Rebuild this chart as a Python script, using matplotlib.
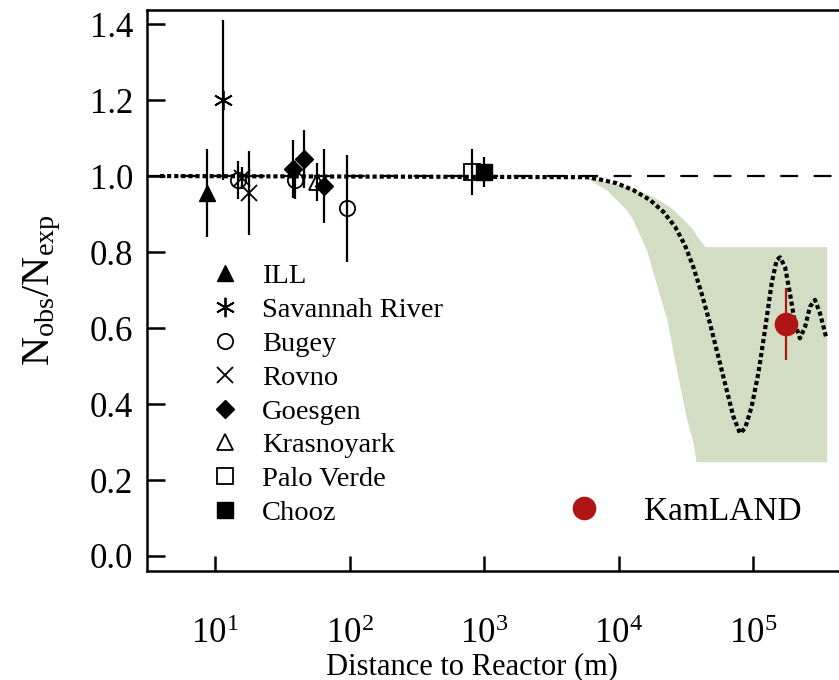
import numpy as np
import matplotlib
matplotlib.use("Agg")
import matplotlib.pyplot as plt
from matplotlib.lines import Line2D
from matplotlib.ticker import FixedLocator, NullLocator

plt.rcParams["font.family"] = ["Liberation Serif", "DejaVu Serif"]
plt.rcParams["mathtext.fontset"] = "custom"
plt.rcParams["mathtext.rm"] = "Liberation Serif"
plt.rcParams["mathtext.it"] = "Liberation Serif:italic"
plt.rcParams["mathtext.bf"] = "Liberation Serif:bold"

# ---- reactor experiments: distance (m), observed/expected ratio, 1-sigma error ----
ill_dist, ill_ratio, ill_err = [8.76], [0.955], [0.115]
srp_dist, srp_ratio, srp_err = [11.4], [1.20], [0.21]
bugey_dist = [14.8, 39.0, 95.0]
bugey_ratio = [0.99, 0.99, 0.915]
bugey_err = [0.05, 0.05, 0.14]
rovno_dist = [16.0, 18.0]
rovno_ratio = [0.995, 0.955]
rovno_err = [0.03, 0.11]
goesgen_dist = [37.9, 45.9, 64.7]
goesgen_ratio = [1.018, 1.045, 0.974]
goesgen_err = [0.077, 0.077, 0.097]
kras_dist, kras_ratio, kras_err = [57.0], [0.985], [0.05]
palo_dist, palo_ratio, palo_err = [820.0], [1.01], [0.06]
chooz_dist, chooz_ratio, chooz_err = [1000.0], [1.01], [0.04]
kam_dist, kam_ratio, kam_err = [1.75e5], [0.611], [0.094]

# ---- best-fit oscillation curve (distance in m, ratio) ----
curve_dist = [3.9, 5808, 7278, 9705, 12882, 17140, 21528, 26303, 31189, 35975,
              41495, 47863, 55208, 63680, 71450, 79983, 87297, 97724, 109648,
              122744, 137721, 149968, 158855, 172982, 188365, 205116, 223357,
              243781, 265461, 289068, 314775, 349140]
curve_ratio = [1.0, 0.997, 0.991, 0.981, 0.963, 0.937, 0.906, 0.867, 0.818, 0.761,
               0.691, 0.612, 0.525, 0.437, 0.367, 0.323, 0.336, 0.393, 0.481,
               0.595, 0.718, 0.779, 0.786, 0.761, 0.691, 0.612, 0.573, 0.603,
               0.656, 0.674, 0.639, 0.577]

# ---- allowed LMA band (distance in m, upper and lower ratio) ----
band_dist = [5470, 8166, 11482, 12823, 16180, 20370, 22961, 25527, 30339,
             32285, 35975, 37670, 43954, 353183]
band_upper = [1.0, 0.985, 0.972, 0.966, 0.954, 0.935, 0.924, 0.911, 0.886,
              0.876, 0.858, 0.845, 0.814, 0.814]
band_lower = [1.0, 0.963, 0.911, 0.884, 0.805, 0.682, 0.621, 0.533, 0.402,
              0.358, 0.296, 0.248, 0.248, 0.248]

x_ticks = [1e1, 1e2, 1e3, 1e4, 1e5]
x_tick_labels = [r"$10^{1}$", r"$10^{2}$", r"$10^{3}$", r"$10^{4}$", r"$10^{5}$"]
y_ticks = [0.0, 0.2, 0.4, 0.6, 0.8, 1.0, 1.2, 1.4]

W, H = 839, 680
AX_L, AX_B, AX_W, AX_H = 147, 109, 692, 561
fig = plt.figure(figsize=(W / 100, H / 100), dpi=100)
ax = fig.add_axes([AX_L / W, AX_B / H, AX_W / W, AX_H / H])
ax.set_xscale("log")
ax.set_xlim(3.12, 4.36e5)
ax.set_ylim(-0.0395, 1.437)


def axfrac(px, py):
    """Pixel position (from top-left of the figure) to axes fraction."""
    return (px - AX_L) / AX_W, (H - AX_B - py) / AX_H


band_color = "#d2ddc3"
ax.fill_between(band_dist, band_lower, band_upper, color=band_color,
                linewidth=0, zorder=1)

# no-oscillation expectation
ax.axhline(1.0, color="k", lw=1.6, dashes=(8, 7), zorder=2)
# oscillation curve
ax.plot(curve_dist, curve_ratio, color="k", lw=3.0, dashes=(1.0, 0.7),
        dash_capstyle="butt", zorder=3)

eb_kw = dict(fmt="none", ecolor="k", elinewidth=1.6, capsize=0, zorder=4)
ms = 11
series = [
    (ill_dist, ill_ratio, ill_err, dict(marker="^", mfc="k", mec="k", ms=ms + 1)),
    (srp_dist, srp_ratio, srp_err, dict(marker=(6, 2, 0), mfc="k", mec="k", ms=ms + 3, mew=1.3)),
    (bugey_dist, bugey_ratio, bugey_err, dict(marker="o", mfc="none", mec="k", ms=ms, mew=1.3)),
    (rovno_dist, rovno_ratio, rovno_err, dict(marker="x", mfc="k", mec="k", ms=ms, mew=1.3)),
    (goesgen_dist, goesgen_ratio, goesgen_err, dict(marker="D", mfc="k", mec="k", ms=ms - 2)),
    (kras_dist, kras_ratio, kras_err, dict(marker="^", mfc="none", mec="k", ms=ms + 1, mew=1.3)),
    (palo_dist, palo_ratio, palo_err, dict(marker="s", mfc="none", mec="k", ms=ms, mew=1.3)),
    (chooz_dist, chooz_ratio, chooz_err, dict(marker="s", mfc="k", mec="k", ms=ms)),
]
for d, r, e, style in series:
    ax.errorbar(d, r, yerr=e, **eb_kw)
    ax.plot(d, r, linestyle="none", zorder=5, **style)

kam_red = "#b01515"
ax.errorbar(kam_dist, kam_ratio, yerr=kam_err, fmt="none", ecolor=kam_red,
            elinewidth=1.6, capsize=0, zorder=6)
ax.plot(kam_dist, kam_ratio, "o", color=kam_red, ms=16, zorder=7)

# axes styling
for side in ["left", "bottom", "top"]:
    ax.spines[side].set_linewidth(1.8)
ax.spines["right"].set_visible(False)
ax.xaxis.set_major_locator(FixedLocator(x_ticks))
ax.xaxis.set_minor_locator(NullLocator())
ax.set_xticklabels(x_tick_labels)
ax.set_yticks(y_ticks)
ax.set_yticklabels([f"{v:.1f}" for v in y_ticks])
ax.tick_params(axis="both", which="major", direction="in", width=1.8,
               labelsize=25, top=False, right=False)
ax.tick_params(axis="y", length=13, pad=10)
ax.tick_params(axis="x", length=11, pad=34)

ax.set_xlabel("Distance to Reactor (m)", fontsize=22)
ax.xaxis.set_label_coords(*axfrac(472, 667))
ax.xaxis.label.set_va("center")
ax.set_ylabel(r"N$_{\mathrm{obs}}$/N$_{\mathrm{exp}}$", fontsize=29)
ax.yaxis.set_label_coords(*axfrac(42, 290))
ax.yaxis.label.set_va("center")

# legends
names = ["ILL", "Savannah River", "Bugey", "Rovno", "Goesgen", "Krasnoyark",
         "Palo Verde", "Chooz"]
handles = [Line2D([], [], linestyle="none", **s[3]) for s in series]
leg = ax.legend(handles, names, loc="upper left",
                bbox_to_anchor=axfrac(211, 263),
                frameon=False, fontsize=20.5, handlelength=1.0,
                handletextpad=0.8, labelspacing=0.28, borderpad=0,
                borderaxespad=0)
ax.add_artist(leg)

kam_handle = Line2D([], [], linestyle="none", marker="o", color=kam_red, ms=16)
ax.legend([kam_handle], ["KamLAND"], loc="upper left",
          bbox_to_anchor=axfrac(564, 496),
          frameon=False, fontsize=24, handlelength=1.2, handletextpad=1.2,
          borderpad=0, borderaxespad=0)

fig.savefig("out.png", dpi=100)
